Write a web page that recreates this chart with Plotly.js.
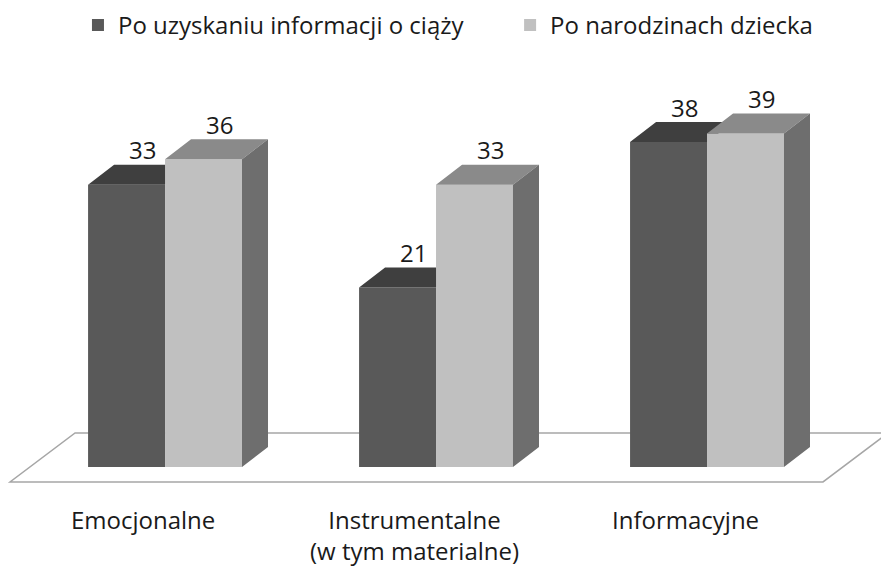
<!DOCTYPE html>
<html>
<head>
<meta charset="utf-8">
<script src="https://cdn.plot.ly/plotly-3.0.1.min.js"></script>
<style>html,body{margin:0;padding:0;background:#fff;}#chart{width:881px;height:567px;}</style>
</head>
<body>
<div id="chart"></div>
<script>
// ---- data ----
const categories = ["Emocjonalne", "Instrumentalne<br>(w tym materialne)", "Informacyjne"];
const seriesNames = ["Po uzyskaniu informacji o ciąży", "Po narodzinach dziecka"];
const valuesPregnancy = [33, 21, 38];
const valuesBirth = [36, 33, 39];

// ---- style / geometry ----
const FONT = "Open Sans, Noto Sans, sans-serif";
const FS = 24;
const TXT = "#1a1a1a";
const BAR_W = 0.284;     // width of one bar (category units)
const DX = 0.096;        // depth offset in x (category units)
const DY = 2.34;         // depth offset in y (value units)
const LABEL_DY = 1.75;   // label gap above back edge (value units)
const LABEL_DX = 0.01;
const CAT_SHIFT = -0.08; // category label shift
const COL = {
  darkFront: "#595959", darkTop: "#3f3f3f",
  lightFront: "#c0c0c0", lightTop: "#8a8a8a", lightSide: "#6e6e6e"
};

const xs = categories.map((_, i) => i);

function topFace(x0, v) {
  return [[x0, v], [x0 + BAR_W, v], [x0 + BAR_W + DX, v + DY], [x0 + DX, v + DY], [x0, v]];
}
function sideFace(x1, v) {
  return [[x1, 0], [x1, v], [x1 + DX, v + DY], [x1 + DX, DY], [x1, 0]];
}
// dark top face, clipped where the lighter (front-right) bar hides it
function darkTopClipped(x0, v, vNext) {
  const x1 = x0 + BAR_W;
  const yc = Math.min(Math.max(vNext, v), v + DY);
  const xc = x1 + DX * (yc - v) / DY;
  return [[x0, v], [x1, v], [x1, yc], [xc, yc], [x1 + DX, v + DY], [x0 + DX, v + DY], [x0, v]];
}
function polysToXY(polys) {
  const x = [], y = [];
  polys.forEach(p => { p.forEach(pt => { x.push(pt[0]); y.push(pt[1]); }); x.push(null); y.push(null); });
  return { x, y };
}

const darkTops = polysToXY(xs.map((c, i) => darkTopClipped(c - BAR_W, valuesPregnancy[i], valuesBirth[i])));
const lightTops = polysToXY(xs.map((c, i) => topFace(c, valuesBirth[i])));
const lightSides = polysToXY(xs.map((c, i) => sideFace(c + BAR_W, valuesBirth[i])));

function faceTrace(d, color) {
  return { type: "scatter", mode: "lines", x: d.x, y: d.y, fill: "toself", fillcolor: color,
    line: { width: 0, color: color }, hoverinfo: "skip", showlegend: false };
}

const traces = [
  { type: "bar", name: seriesNames[0], x: xs, y: valuesPregnancy, width: BAR_W, offset: -BAR_W,
    marker: { color: COL.darkFront, line: { width: 0 } }, legend: "legend" },
  { type: "bar", name: seriesNames[1], x: xs, y: valuesBirth, width: BAR_W, offset: 0,
    marker: { color: COL.lightFront, line: { width: 0 } }, legend: "legend2" },
  faceTrace(darkTops, COL.darkTop),
  faceTrace(lightTops, COL.lightTop),
  faceTrace(lightSides, COL.lightSide)
];

const annotations = [];
xs.forEach((c, i) => {
  annotations.push({ x: c - BAR_W / 2 + DX / 2 + LABEL_DX, y: valuesPregnancy[i] + DY + LABEL_DY, text: String(valuesPregnancy[i]),
    showarrow: false, xanchor: "center", yanchor: "middle", font: { family: FONT, size: FS, color: TXT } });
  annotations.push({ x: c + BAR_W / 2 + DX / 2 + LABEL_DX, y: valuesBirth[i] + DY + LABEL_DY, text: String(valuesBirth[i]),
    showarrow: false, xanchor: "center", yanchor: "middle", font: { family: FONT, size: FS, color: TXT } });
  annotations.push({ x: c + CAT_SHIFT, y: -3.95, text: categories[i], showarrow: false, xanchor: "center", yanchor: "top",
    align: "center", font: { family: FONT, size: FS, color: TXT } });
});

// floor (plot-area decoration)
const floorPath = "M -0.572 -1.754 L 2.428 -1.754 L 2.668 3.98 L -0.332 3.98 Z";

const legendBase = { orientation: "h", xanchor: "left", y: 0.995, yanchor: "top",
  font: { family: FONT, size: FS, color: TXT }, bgcolor: "rgba(0,0,0,0)" };

const layout = {
  width: 881, height: 567,
  margin: { l: 0, r: 0, t: 0, b: 0 },
  paper_bgcolor: "#ffffff", plot_bgcolor: "#ffffff",
  barmode: "overlay",
  showlegend: true,
  legend: Object.assign({}, legendBase, { x: 0.0885 }),
  legend2: Object.assign({}, legendBase, { x: 0.579 }),
  xaxis: { range: [-0.609, 2.642], visible: false, fixedrange: true },
  yaxis: { range: [-11.70, 54.62], visible: false, fixedrange: true },
  shapes: [{ type: "path", path: floorPath, xref: "x", yref: "y", layer: "below",
    fillcolor: "#ffffff", line: { color: "#a6a6a6", width: 1.5 } }],
  annotations: annotations
};

Plotly.newPlot("chart", traces, layout, { displayModeBar: false, staticPlot: true });
</script>
</body>
</html>
